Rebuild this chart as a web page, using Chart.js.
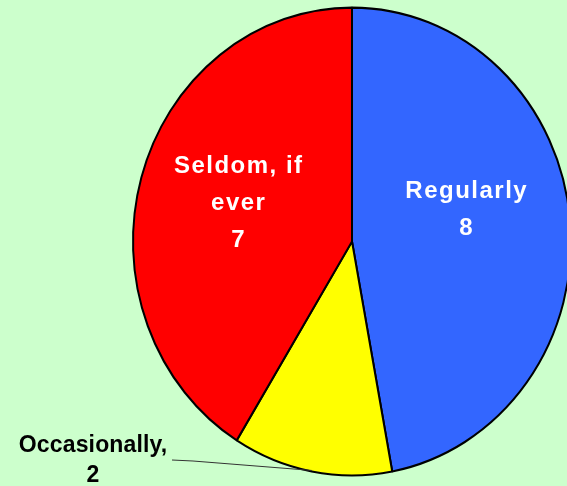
<!DOCTYPE html>
<html>
<head>
<meta charset="utf-8">
<script src="https://cdn.jsdelivr.net/npm/chart.js@4/dist/chart.umd.min.js"></script>
<style>
  html, body { margin: 0; padding: 0; overflow: hidden; background: #CCFFCC; width: 567px; height: 486px; }
  canvas { display: block; }
</style>
</head>
<body>
<canvas id="c" width="600" height="486"></canvas>
<script>
// Survey answers and how many people gave each one
const categories = [['Regularly'], ['Occasionally,'], ['Seldom, if', 'ever']];
const counts = [8, 2, 7];
const sliceColors = ['#3366FF', '#FFFF00', '#FF0000'];

// Text placement for each slice label (first baseline, centred on x)
const labelStyles = [
  { x: 466, y: 198, color: '#FFFFFF', size: 24, spacing: 1.5, lineHeight: 37 },
  { x: 93,  y: 452, color: '#000000', size: 23, spacing: 0.15, lineHeight: 30 },
  { x: 238, y: 173, color: '#FFFFFF', size: 24, spacing: 1.5, lineHeight: 37 }
];
const verticalStretch = 235 / 220;   // the pie is drawn slightly taller than wide

const ellipsePlugin = {
  id: 'ellipse',
  beforeDatasetsDraw(chart) {
    const arc = chart.getDatasetMeta(0).data[0];
    const ctx = chart.ctx;
    ctx.save();
    ctx.translate(0, arc.y);
    ctx.scale(1, verticalStretch);
    ctx.translate(0, -arc.y);
  },
  afterDatasetsDraw(chart) {
    chart.ctx.restore();
  }
};

const labelPlugin = {
  id: 'sliceLabels',
  afterDraw(chart) {
    const ctx = chart.ctx;
    const meta = chart.getDatasetMeta(0);

    // leader line from the outside label to the small slice
    const small = meta.data[1];
    const mid = (small.startAngle + small.endAngle) / 2;
    const ex = small.x + Math.cos(mid) * small.outerRadius;
    const ey = small.y + Math.sin(mid) * small.outerRadius * verticalStretch;
    ctx.save();
    ctx.strokeStyle = '#333333';
    ctx.lineWidth = 1;
    ctx.beginPath();
    ctx.moveTo(172, 460);
    ctx.lineTo(193, 461);
    ctx.lineTo(ex, ey - 1);
    ctx.stroke();
    ctx.restore();

    categories.forEach((lines, i) => {
      const s = labelStyles[i];
      const text = lines.concat([String(counts[i])]);
      ctx.save();
      ctx.font = 'bold ' + s.size + 'px "Liberation Sans", Arial, sans-serif';
      ctx.fillStyle = s.color;
      ctx.textAlign = 'center';
      ctx.textBaseline = 'alphabetic';
      ctx.letterSpacing = s.spacing + 'px';
      text.forEach((t, j) => {
        ctx.fillText(t, s.x + s.spacing / 2, s.y + j * s.lineHeight);
      });
      ctx.restore();
    });
  }
};

new Chart(document.getElementById('c'), {
  type: 'pie',
  data: {
    labels: categories,
    datasets: [{
      data: counts,
      backgroundColor: sliceColors,
      borderColor: '#000000',
      borderWidth: 2,
      clip: false
    }]
  },
  options: {
    responsive: false,
    animation: false,
    events: [],
    layout: { padding: { left: 132, right: 28, top: 0, bottom: 3 } },
    plugins: {
      legend: { display: false },
      tooltip: { enabled: false },
      title: { display: false }
    }
  },
  plugins: [ellipsePlugin, labelPlugin]
});
</script>
</body>
</html>
